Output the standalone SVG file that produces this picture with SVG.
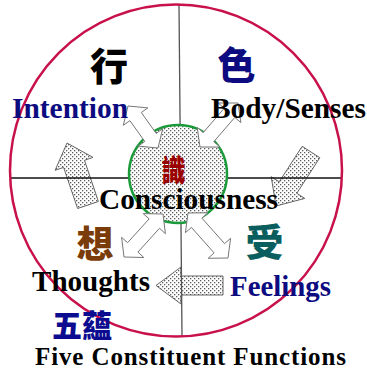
<svg xmlns="http://www.w3.org/2000/svg" width="367" height="373" viewBox="0 0 367 373">
<defs>
<pattern id="dots" width="4" height="4" patternUnits="userSpaceOnUse">
<rect width="4" height="4" fill="#ffffff"/>
<rect x="0" y="0" width="1.3" height="1.3" fill="#5a5a5a"/>
<rect x="2" y="2" width="1.3" height="1.3" fill="#5a5a5a"/>
</pattern>
<style>
.big{fill:url(#dots);stroke:#666;stroke-width:1;stroke-linejoin:miter}
.small{fill:#ffffff;stroke:#777;stroke-width:1}
.lat{font-family:"Liberation Serif","Times New Roman",serif;font-weight:bold;font-size:29px}
.cjk{font-family:"Noto Sans CJK TC","Noto Sans CJK SC",sans-serif;font-weight:900;text-anchor:middle}
</style>
</defs>
<rect width="367" height="373" fill="#ffffff"/>
<g id="connectors">
<polygon id="arrow-intention-cycle" class="big" points="98.4,201.5 84.5,160.3 93,157.4 67,143 55.1,170.3 63.6,167.4 77.6,208.5"/>
<polygon id="arrow-body-feelings" class="big" points="319.8,157.7 296.8,193.3 304.8,198.4 276,206 271.2,176.7 279.2,181.8 302.2,146.3"/>
<polygon id="arrow-feelings-thoughts" class="big" points="223,276 181,276 181,267 156,285.5 181,304 181,295 223,295"/>
</g>
<g id="frame">
<line x1="10" y1="178" x2="342" y2="178" stroke="#111" stroke-width="1.3"/>
<line x1="179" y1="5" x2="182" y2="336" stroke="#555" stroke-width="1.3"/>
<circle cx="176" cy="170.5" r="166" fill="none" stroke="#c8104a" stroke-width="2.5"/>
</g>
<g id="consciousness-circle">
<circle cx="178" cy="174" r="49" fill="url(#dots)" stroke="#1a9a3a" stroke-width="2.5"/>
</g>
<g id="double-arrows">
<polygon class="small" points="128,106 123.3,125.3 129.9,120.7 144.8,141.5 138.2,146.1 158,148 162.7,128.7 156.2,133.4 141.3,112.5 147.8,107.9"/>
<polygon class="small" points="200,147 219.9,147 213.8,141.7 234.8,117.4 240.9,122.6 238,103 218.2,103 224.2,108.3 203.2,132.6 197.2,127.4"/>
<polygon class="small" points="124,257 143.8,257.5 137.9,252.1 159.5,228.3 165.4,233.7 163,214 143.2,213.6 149.1,218.9 127.6,242.7 121.6,237.3"/>
<polygon class="small" points="188,213 185.4,232.7 191.4,227.4 214.1,252.9 208.2,258.3 228,258 230.6,238.3 224.6,243.6 201.9,218.1 207.9,212.8"/>
</g>
<g id="node-intention">
<text class="cjk" x="109" y="79.5" font-size="38" fill="#000">行</text>
<text class="lat" x="12" y="118" fill="#0c0c80" textLength="116" lengthAdjust="spacingAndGlyphs">Intention</text>
</g>
<g id="node-body">
<text class="cjk" x="236.5" y="79" font-size="38" fill="#0c0c80">色</text>
<text class="lat" x="211" y="118" fill="#000" textLength="155" lengthAdjust="spacingAndGlyphs">Body/Senses</text>
</g>
<g id="node-consciousness">
<text class="cjk" x="173.5" y="181" font-size="30" fill="#9a0000" textLength="24" lengthAdjust="spacingAndGlyphs">識</text>
<text class="lat" x="99" y="209" fill="#000" textLength="179" lengthAdjust="spacingAndGlyphs">Consciousness</text>
</g>
<g id="node-thoughts">
<text class="cjk" x="95" y="257.5" font-size="37" fill="#7a3c08">想</text>
<text class="lat" x="32" y="291" fill="#000" textLength="118" lengthAdjust="spacingAndGlyphs">Thoughts</text>
</g>
<g id="node-feelings">
<text class="cjk" x="264.5" y="255.5" font-size="38" fill="#0b5e5e">受</text>
<text class="lat" x="230" y="296" fill="#0c0c80" textLength="101" lengthAdjust="spacingAndGlyphs">Feelings</text>
</g>
<g id="title">
<text class="cjk" x="82" y="336.5" font-size="31" fill="#0c0c90" textLength="60" lengthAdjust="spacingAndGlyphs">五蘊</text>
<text class="lat" x="35" y="365" fill="#000" style="font-size:25px" textLength="311" lengthAdjust="spacing">Five Constituent Functions</text>
</g>
</svg>
